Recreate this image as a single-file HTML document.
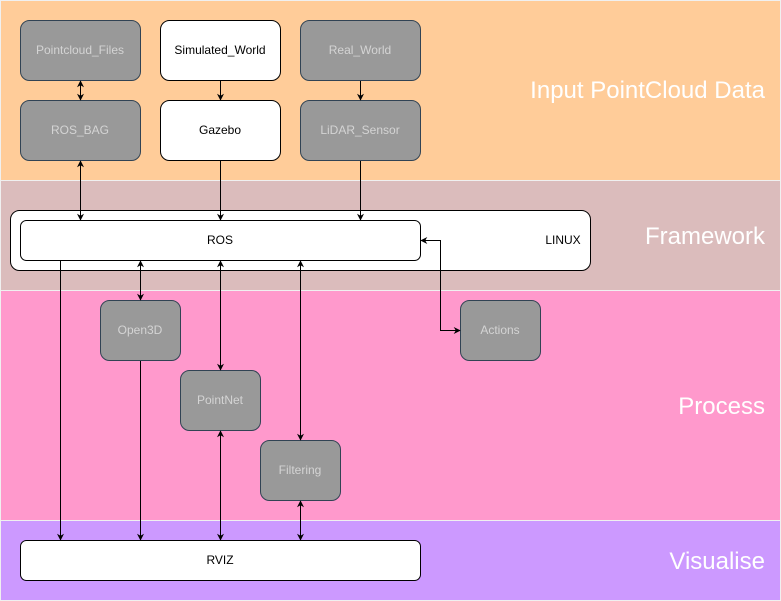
<!DOCTYPE html>
<html><head><meta charset="utf-8"><style>
html,body{margin:0;padding:0;background:#fff}
svg{display:block}
text{font-family:"Liberation Sans",sans-serif}
</style></head><body>
<svg width="781" height="601" viewBox="0 0 781 601" xmlns="http://www.w3.org/2000/svg">
<defs>
<marker id="a" viewBox="0 0 10 10" refX="9" refY="5" markerWidth="7" markerHeight="7" orient="auto-start-reverse" markerUnits="userSpaceOnUse">
<path d="M0,0 L10,5 L0,10 L3,5 z" fill="#000"/></marker>
</defs>
<rect x="0.5" y="0.5" width="780" height="180" fill="#ffcc99" stroke="#f0f0f0"/>
<rect x="0.5" y="180.5" width="780" height="110" fill="#dbbcbc" stroke="#f0f0f0"/>
<rect x="0.5" y="290.5" width="780" height="230" fill="#ff99cc" stroke="#f0f0f0"/>
<rect x="0.5" y="520.5" width="780" height="80" fill="#cc99ff" stroke="#f0f0f0"/>
<g fill="#fff" font-size="24" text-anchor="end">
<text x="765" y="98">Input PointCloud Data</text>
<text x="765" y="244">Framework</text>
<text x="765" y="414">Process</text>
<text x="765" y="569">Visualise</text>
</g>
<g stroke="#314354" fill="#999">
<rect x="20.5" y="20.5" width="120" height="60" rx="9"/>
<rect x="300.5" y="20.5" width="120" height="60" rx="9"/>
<rect x="20.5" y="100.5" width="120" height="60" rx="9"/>
<rect x="300.5" y="100.5" width="120" height="60" rx="9"/>
<rect x="100.5" y="300.5" width="80" height="60" rx="9"/>
<rect x="460.5" y="300.5" width="80" height="60" rx="9"/>
<rect x="180.5" y="370.5" width="80" height="60" rx="9"/>
<rect x="260.5" y="440.5" width="80" height="60" rx="9"/>
</g>
<g stroke="#000" fill="#fff">
<rect x="160.5" y="20.5" width="120" height="60" rx="9"/>
<rect x="160.5" y="100.5" width="120" height="60" rx="9"/>
<rect x="10.5" y="210.5" width="580" height="60" rx="9"/>
<rect x="20.5" y="220.5" width="400" height="40" rx="6"/>
<rect x="20.5" y="540.5" width="400" height="40" rx="6"/>
</g>
<g font-size="12" text-anchor="middle" fill="#d4d4d4">
<text x="80" y="54">Pointcloud_Files</text>
<text x="360" y="54">Real_World</text>
<text x="80" y="134">ROS_BAG</text>
<text x="360" y="134">LiDAR_Sensor</text>
<text x="140" y="334">Open3D</text>
<text x="500" y="334">Actions</text>
<text x="220" y="404">PointNet</text>
<text x="300" y="474">Filtering</text>
</g>
<g font-size="12" text-anchor="middle" fill="#000">
<text x="220" y="54">Simulated_World</text>
<text x="220" y="134">Gazebo</text>
<text x="220" y="244">ROS</text>
<text x="563" y="244">LINUX</text>
<text x="220" y="564">RVIZ</text>
</g>
<g stroke="#000" stroke-width="1" fill="none">
<line x1="80.5" y1="81" x2="80.5" y2="100" marker-start="url(#a)" marker-end="url(#a)"/>
<line x1="220.5" y1="81" x2="220.5" y2="100" marker-end="url(#a)"/>
<line x1="360.5" y1="81" x2="360.5" y2="100" marker-end="url(#a)"/>
<line x1="80.5" y1="161" x2="80.5" y2="220" marker-start="url(#a)" marker-end="url(#a)"/>
<line x1="220.5" y1="161" x2="220.5" y2="220" marker-end="url(#a)"/>
<line x1="360.5" y1="161" x2="360.5" y2="220" marker-end="url(#a)"/>
<line x1="140.5" y1="261" x2="140.5" y2="300" marker-start="url(#a)" marker-end="url(#a)"/>
<line x1="220.5" y1="261" x2="220.5" y2="370" marker-start="url(#a)" marker-end="url(#a)"/>
<line x1="300.5" y1="261" x2="300.5" y2="440" marker-start="url(#a)" marker-end="url(#a)"/>
<polyline points="421,240.5 440.5,240.5 440.5,330.5 460,330.5" marker-start="url(#a)" marker-end="url(#a)"/>
<line x1="60.5" y1="261" x2="60.5" y2="540" marker-end="url(#a)"/>
<line x1="140.5" y1="361" x2="140.5" y2="540" marker-end="url(#a)"/>
<line x1="220.5" y1="431" x2="220.5" y2="540" marker-start="url(#a)" marker-end="url(#a)"/>
<line x1="300.5" y1="501" x2="300.5" y2="540" marker-start="url(#a)" marker-end="url(#a)"/>
</g>
</svg>
</body></html>
